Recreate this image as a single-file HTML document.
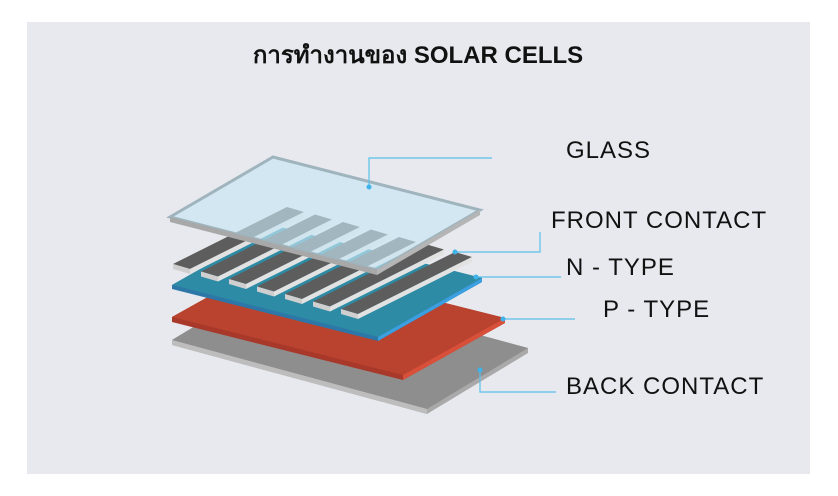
<!DOCTYPE html>
<html><head><meta charset="utf-8"><style>
body{margin:0;width:838px;height:496px;background:#fff;overflow:hidden}
svg{display:block}
text{font-family:"Liberation Sans","DejaVu Sans",sans-serif}
</style></head><body>
<svg width="838" height="496" viewBox="0 0 838 496">
<defs>
<g id="fg"><polygon points="173,264 287,207 304,212 190,269" fill="#5d5d5d"/><polygon points="173,264 190,269 190,274 173,269" fill="#cfcfcf"/><polygon points="190,269 304,212 304,217 190,274" fill="#e2e2e2"/></g>
</defs>
<rect x="27" y="22" width="783" height="452" fill="#e8e9ee"/>
<text x="418" y="63" text-anchor="middle" font-size="24" font-weight="bold" fill="#111" font-family="'Liberation Sans','DejaVu Sans',sans-serif">การทำงานของ SOLAR CELLS</text>
<polygon points="172,340 273,279 528,348 528,353 427,414 172,345" fill="#a9a9a9"/>
<polygon points="172,340 273,279 528,348 427,409" fill="#8e8e8e"/>
<polygon points="172,340 427,409 427,414 172,345" fill="#bdbdbd"/>
<polygon points="172,317 274,260 505,318 505,323 403,380 172,322" fill="#a8382a"/>
<polygon points="172,317 274,260 505,318 403,375" fill="#b9432f"/>
<polygon points="403,375 505,318 505,323 403,380" fill="#d9503a"/>
<polygon points="172,285 276,226 482,278 482,282 378,341 172,289" fill="#2c76a8"/>
<polygon points="172,285 276,226 482,278 378,337" fill="#2e8ba5"/>
<polygon points="378,337 482,278 482,282 378,341" fill="#3b9fe0"/>
<use href="#fg"/>
<use href="#fg" transform="translate(28,7.5)"/>
<use href="#fg" transform="translate(56,15)"/>
<use href="#fg" transform="translate(84,22.5)"/>
<use href="#fg" transform="translate(112,30)"/>
<use href="#fg" transform="translate(140,37.5)"/>
<use href="#fg" transform="translate(168,45)"/>
<polygon points="170,217 273,157 480,210 377,270" fill="#c8e6f4" fill-opacity="0.65" stroke="#9fb4bd" stroke-width="3"/>
<polygon points="170,217 377,270 377,275 170,222" fill="#a8a8a8"/>
<polygon points="377,270 480,210 480,215 377,275" fill="#b5b5b5"/>
<g stroke="#5bc0ea" stroke-width="1.2" fill="none">
<polyline points="369,187 369,158 492,158"/>
<polyline points="455,252 540,252 540,232"/>
<polyline points="476,277 561,277"/>
<polyline points="503,319 575,319"/>
<polyline points="480,370 480,392 556,392"/>
</g>
<g fill="#3fb3ea">
<circle cx="369" cy="187" r="2.5"/><circle cx="455" cy="252" r="2.5"/><circle cx="476" cy="277" r="2.5"/><circle cx="503" cy="319" r="2.5"/><circle cx="480" cy="370" r="2.5"/>
</g>
<g font-size="24" fill="#111" letter-spacing="1">
<text x="566" y="158">GLASS</text>
<text x="551" y="228">FRONT CONTACT</text>
<text x="566" y="275">N - TYPE</text>
<text x="603" y="317">P - TYPE</text>
<text x="566" y="394">BACK CONTACT</text>
</g>
</svg>
</body></html>
